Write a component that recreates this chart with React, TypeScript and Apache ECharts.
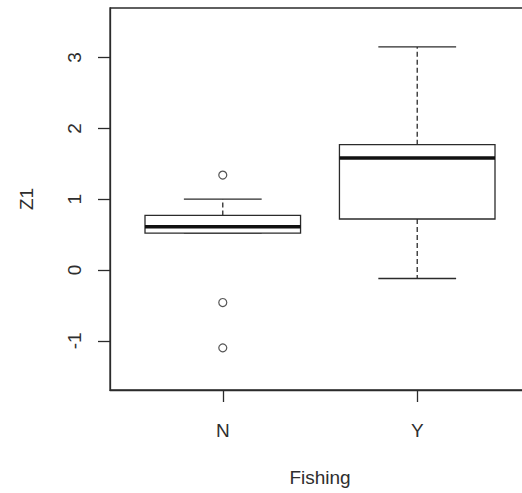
import React, { useEffect, useRef } from "react";
import * as echarts from "echarts";

// Five-number summaries per Fishing group
const categories = ["N", "Y"];
const lowerWhisker = [0.52, -0.12];
const q1 = [0.52, 0.72];
const median = [0.61, 1.58];
const q3 = [0.77, 1.77];
const upperWhisker = [1.0, 3.15];

// Points beyond the whiskers (group index, value)
const outlierGroup = [0, 0, 0];
const outlierValue = [1.34, -0.46, -1.1];

const yTicks = [-1, 0, 1, 2, 3];

const LINE = "#2b2b2b";
const TEXT = "#2e2e2e";
const FONT = "'Liberation Sans', Arial, sans-serif";

export default function App() {
  const ref = useRef<HTMLDivElement>(null);

  useEffect(() => {
    if (!ref.current) return;
    const chart = echarts.init(ref.current, null, { renderer: "svg" });

    const boxData = categories.map((_, i) => [
      i + 1,
      lowerWhisker[i],
      q1[i],
      median[i],
      q3[i],
      upperWhisker[i],
    ]);
    const outliers = outlierValue.map((v, k) => [outlierGroup[k] + 1, v]);

    chart.setOption({
      animation: false,
      backgroundColor: "#ffffff",
      grid: {
        left: 110,
        top: 8,
        width: 420,
        height: 382,
        outerBoundsMode: "none",
        containLabel: false,
        show: true,
        borderColor: LINE,
        borderWidth: 1.3,
        backgroundColor: "transparent",
      },
      xAxis: {
        type: "value",
        min: 0.42,
        max: 2.58,
        name: "Fishing",
        nameLocation: "middle",
        nameGap: 78,
        nameTextStyle: { color: TEXT, fontSize: 19, fontFamily: FONT },
        splitLine: { show: false },
        axisLine: { show: true, onZero: false, lineStyle: { color: LINE, width: 1.3 } },
        axisTick: {
          show: true,
          length: 12,
          customValues: [1, 2],
          lineStyle: { color: LINE, width: 1.3 },
        },
        axisLabel: {
          customValues: [1, 2],
          margin: 31,
          color: TEXT,
          fontSize: 19,
          fontFamily: FONT,
          formatter: (v: number) => categories[Math.round(v) - 1] ?? "",
        },
      },
      yAxis: {
        type: "value",
        min: -1.695,
        max: 3.7,
        name: "Z1",
        nameLocation: "middle",
        nameRotate: 90,
        nameGap: 74,
        nameTextStyle: { color: TEXT, fontSize: 19, fontFamily: FONT },
        splitLine: { show: false },
        axisLine: { show: true, onZero: false, lineStyle: { color: LINE, width: 1.3 } },
        axisTick: {
          show: true,
          length: 12,
          customValues: yTicks,
          lineStyle: { color: LINE, width: 1.3 },
        },
        axisLabel: {
          customValues: yTicks,
          rotate: 90,
          margin: 26,
          color: TEXT,
          fontSize: 19,
          fontFamily: FONT,
          formatter: (v: number) => String(v),
        },
      },
      series: [
        {
          type: "custom",
          data: boxData,
          encode: { x: 0, y: [1, 2, 3, 4, 5] },
          renderItem: (params: any, api: any) => {
            const x = api.value(0);
            const lo = api.coord([x, api.value(1)]);
            const b1 = api.coord([x, api.value(2)]);
            const md = api.coord([x, api.value(3)]);
            const b3 = api.coord([x, api.value(4)]);
            const hi = api.coord([x, api.value(5)]);
            const boxW = api.size([0.8, 0])[0];
            const capW = boxW / 2;
            const cx = lo[0];
            const solid = { stroke: LINE, lineWidth: 1.3, fill: null };
            const dashed = { stroke: LINE, lineWidth: 1.3, lineDash: [5, 3] };
            return {
              type: "group",
              children: [
                {
                  type: "line",
                  shape: { x1: cx, y1: b3[1], x2: cx, y2: hi[1] },
                  style: dashed,
                },
                {
                  type: "line",
                  shape: { x1: cx, y1: b1[1], x2: cx, y2: lo[1] },
                  style: dashed,
                },
                {
                  type: "line",
                  shape: { x1: cx - capW / 2, y1: hi[1], x2: cx + capW / 2, y2: hi[1] },
                  style: solid,
                },
                {
                  type: "line",
                  shape: { x1: cx - capW / 2, y1: lo[1], x2: cx + capW / 2, y2: lo[1] },
                  style: solid,
                },
                {
                  type: "rect",
                  shape: { x: cx - boxW / 2, y: b3[1], width: boxW, height: b1[1] - b3[1] },
                  style: { stroke: LINE, lineWidth: 1.3, fill: "#ffffff" },
                },
                {
                  type: "line",
                  shape: { x1: cx - boxW / 2, y1: md[1], x2: cx + boxW / 2, y2: md[1] },
                  style: { stroke: "#111111", lineWidth: 3.5 },
                },
              ],
            };
          },
        },
        {
          type: "scatter",
          data: outliers,
          symbol: "circle",
          symbolSize: 8,
          itemStyle: { color: "#ffffff", borderColor: LINE, borderWidth: 1.2 },
          z: 3,
        },
      ],
    });

    return () => chart.dispose();
  }, []);

  return (
    <div
      ref={ref}
      style={{ position: "absolute", left: 0, top: 0, width: 522, height: 493 }}
    />
  );
}
